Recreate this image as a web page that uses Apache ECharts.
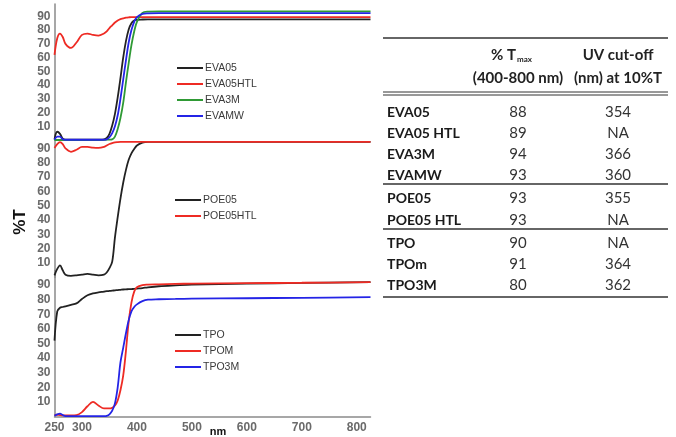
<!DOCTYPE html>
<html><head><meta charset="utf-8">
<script src="https://cdn.jsdelivr.net/npm/echarts@6/dist/echarts.min.js"></script>
<style>html,body{margin:0;padding:0;background:#fff}#c{width:676px;height:437px}</style>
</head><body><div id="c"></div>
<script>
// Wavelength grid (nm)
const wl = [250,255,260,265,270,280,290,300,310,320,330,340,345,350,355,360,365,370,375,380,385,390,395,400,410,420,440,470,500,600,700,825];
// Panel 1
const EVA05    = [0.5,6,4.5,1,0.3,0.2,0.2,0.3,0.3,0.2,0.3,0.5,1.5,4.5,10.5,19,31,45,60,72,80.5,85,87,87.5,87.7,87.8,87.8,87.8,87.8,87.8,87.8,87.8];
const EVA05HTL = [62,74,77.5,75,70,67,71,76.5,77.5,76.5,76,77.5,79,81.5,83.5,85.5,87,88,88.5,89,89.3,89.5,89.5,89.5,89.5,89.5,89.5,89.5,89.5,89.5,89.5,89.5];
const EVA3M    = [0,0,0,0,0,0,0,0,0,0,0,0.1,0.2,0.3,0.5,2.5,8,16,27,42,56,69,79,86,92.5,93.5,93.7,93.7,93.7,93.7,93.7,93.7];
const EVAMW    = [0.3,2.5,2.5,0.5,0.2,0.2,0.2,0.2,0.2,0.2,0.2,0.2,0.5,2,5,10,18,30,44,58,71,80,86,89.5,91.8,92.2,92.3,92.3,92.3,92.3,92.3,92.3];
// Panel 2
const POE05    = [1.5,6,8.5,5,2,1.2,1.5,2,2.5,2,1.5,2,3.5,6.5,11,28,42,55,66,75,82,86.5,89.5,92,94,94.5,94.5,94.5,94.5,94.5,94.5,94.5];
const POE05HTL = [90.3,93,94.4,93,90,87.6,89,91,91,90.5,90.3,91,92,93,93.7,94.2,94.4,94.5,94.5,94.5,94.5,94.5,94.5,94.5,94.5,94.5,94.5,94.5,94.5,94.5,94.5,94.5];
// Panel 3
const TPO      = [52,72,74.5,75,75.5,76.5,77.5,80.5,83,84.3,85,85.5,85.8,86,86.2,86.4,86.6,86.8,87,87.1,87.2,87.3,87.4,87.6,88,88.5,89.2,89.8,90.3,91,91.5,92];
const TPOM     = [1,1.2,1,0.8,0.8,0.8,1,3,7,10,7.5,5.5,5.5,5.5,6,7.5,11,18,28,45,65,78,85.5,88.5,90,90.3,90.5,90.8,91,91.3,91.6,92];
const TPO3M    = [0.5,1.5,2,1,0.3,0.2,0.2,0.2,0.2,0.2,0.2,0.3,0.5,1.5,4,9,20,37,47,57,66,72,75,76.8,79,80,80.3,80.5,80.7,81,81.3,81.7];
const xTicks = [250,300,400,500,600,700,800];
// Table
const tableNames = ['EVA05','EVA05 HTL','EVA3M','EVAMW','POE05','POE05 HTL','TPO','TPOm','TPO3M'];
const tableTmax  = ['88','89','94','93','93','93','90','91','80'];
const tableCut   = ['354','NA','366','360','355','NA','NA','364','362'];

const C = {black:'#222222', red:'#ee2b24', green:'#2f9a35', blue:'#2424e6'};
const panels = [
  {top:4, height:136, series:[['EVA05',EVA05,C.black],['EVA05HTL',EVA05HTL,C.red],['EVA3M',EVA3M,C.green],['EVAMW',EVAMW,C.blue]], lg:{left:172,top:57}},
  {top:134, height:143.5, series:[['POE05',POE05,C.black],['POE05HTL',POE05HTL,C.red]], lg:{left:170,top:189}},
  {top:270.5, height:146, series:[['TPO',TPO,C.black],['TPOM',TPOM,C.red],['TPO3M',TPO3M,C.blue]], lg:{left:170,top:324}}
];
const yMax = [99, 100, 100];
const grid=[], xAxis=[], yAxis=[], series=[], legend=[];
panels.forEach((p,i)=>{
  grid.push({left:54.5, width:316, top:p.top, height:p.height});
  const last = i===2;
  xAxis.push({type:'value', gridIndex:i, min:250, max:825, interval:50,
    axisLine:{show:last, lineStyle:{color:'#8a8a8a', width:1.5}},
    axisTick:{show:false}, splitLine:{show:false},
    axisLabel:{show:last, margin:5, color:'#6a6a6a', fontSize:12, fontWeight:'bold', fontFamily:'Liberation Sans',
      customValues: xTicks, formatter: v => xTicks.includes(v) ? String(v) : ''}});
  yAxis.push({type:'value', gridIndex:i, min:0, max:yMax[i], interval:10,
    axisLine:{show:true, lineStyle:{color:'#8a8a8a', width:1.5}},
    axisTick:{show:false}, splitLine:{show:false},
    axisLabel:{margin:4, color:'#6a6a6a', fontSize:12, fontWeight:'bold', fontFamily:'Liberation Sans',
      formatter: v => (v===0||v>=99)?'':String(v)}});
  p.series.forEach(s=>{
    series.push({name:s[0], type:'line', xAxisIndex:i, yAxisIndex:i, showSymbol:false, symbol:'none',
      smooth:0.35, lineStyle:{color:s[2], width:1.8}, itemStyle:{color:s[2]},
      data: wl.map((w,k)=>[w,s[1][k]])});
  });
  legend.push({left:p.lg.left, top:p.lg.top, orient:'vertical', icon:'rect', itemWidth:26, itemHeight:2, itemGap:4,
    data:p.series.map(s=>s[0]), selectedMode:false,
    textStyle:{fontSize:10.5, lineHeight:12, color:'#3a3a3a', fontFamily:'Liberation Sans Narrow, Liberation Sans', padding:[0,0,0,-3]}});
});

// Table graphics
const g = [];
const TF = 'Lato, Liberation Sans';
const txt = (t,x,y,opt={}) => g.push({type:'text', x:x, y:y, style:Object.assign({text:t, fill:'#222', font:'14px '+TF, textAlign:'left', textVerticalAlign:'middle'},opt)});
const ln = (y,w) => g.push({type:'line', shape:{x1:383,y1:y,x2:668,y2:y}, style:{stroke:'#333', lineWidth:w}});
ln(38,1.5); ln(92,1); ln(95,1); ln(184,1.5); ln(229,1.5); ln(297,1.5);
txt('% T',491,55,{font:'bold 15px '+TF});
txt('max',517,59,{font:'bold 8px '+TF});
txt('(400-800 nm)',518,78,{font:'bold 15px '+TF, textAlign:'center'});
txt('UV cut-off',618,55,{font:'bold 15px '+TF, textAlign:'center'});
txt('(nm) at 10%T',618,78,{font:'bold 15px '+TF, textAlign:'center'});
const rowY = [112,133,154,175,198,220,243,264,285];
tableNames.forEach((n,k)=>{
  txt(n,387,rowY[k],{font:'bold 14px '+TF, fill:'#1a1a1a'});
  txt(tableTmax[k],518,rowY[k],{textAlign:'center', fill:'#333', font:'15px '+TF});
  txt(tableCut[k],618,rowY[k],{textAlign:'center', fill:'#333', font:'15px '+TF});
});
g.push({type:'text', x:20, y:222, rotation:Math.PI/2, style:{text:'%T', font:'bold 17px Liberation Sans', fill:'#111', textAlign:'center', textVerticalAlign:'middle'}});
g.push({type:'text', x:218, y:432, style:{text:'nm', font:'bold 11px Liberation Sans', fill:'#111', textAlign:'center', textVerticalAlign:'middle'}});

const chart = echarts.init(document.getElementById('c'), null, {renderer:'canvas'});
chart.setOption({animation:false, backgroundColor:'#fff', grid, xAxis, yAxis, series, legend, graphic:g});
</script></body></html>
